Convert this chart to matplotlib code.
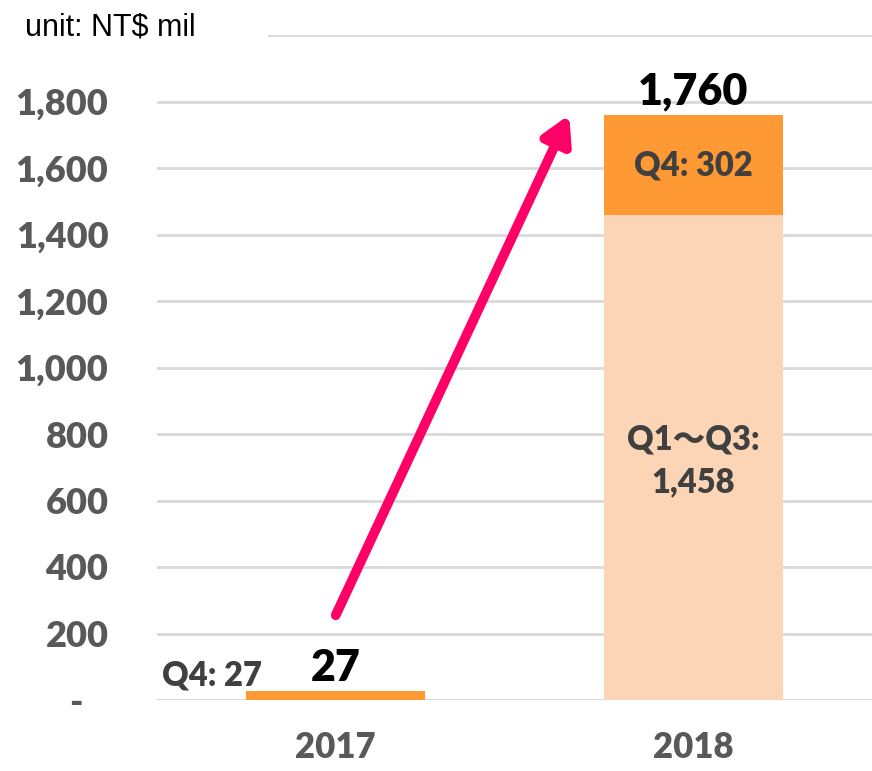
import matplotlib.pyplot as plt
from matplotlib.patches import Rectangle
from matplotlib.ticker import FuncFormatter

years = ["2017", "2018"]
q1_q3 = [0, 1458]
q4 = [27, 302]
totals = [27, 1760]

c_q4 = "#FF9933"
c_q13 = "#FBD5B5"
lbl = ["Lato", "Noto Sans CJK JP", "DejaVu Sans"]
wt = "heavy"

fig = plt.figure(figsize=(8.72, 7.71), dpi=100)
ax = fig.add_axes([157 / 872, 71 / 771, 1 - 157 / 872, 665 / 771])

x = range(len(years))
ax.bar(x, q1_q3, width=0.5, color=c_q13, zorder=2)
ax.bar(x, q4, width=0.5, bottom=q1_q3, color=c_q4, zorder=2)

ax.set_xlim(-0.5, 1.5)
ax.set_ylim(0, 2000)
ax.set_yticks(range(0, 2001, 200))
ax.yaxis.set_major_formatter(FuncFormatter(lambda v, p: "-   " if v == 0 else f"{v:,.0f}"))
ax.set_xticks(list(x))
ax.set_xticklabels(years)
ax.grid(axis="y", color="#D9D9D9", linewidth=2, zorder=0)
for s in ax.spines.values():
    s.set_visible(False)
ax.tick_params(length=0)
ax.tick_params(axis="y", pad=35)
ax.tick_params(axis="x", pad=22)
for t in ax.get_yticklabels():
    t.set_fontsize(26)
for t in ax.get_xticklabels():
    t.set_fontsize(25)
for t in ax.get_yticklabels() + ax.get_xticklabels():
    t.set_fontfamily(lbl)
    t.set_fontweight(wt)
    t.set_color("#595959")
ax.get_yticklabels()[-1].set_visible(False)

# totals on top
for i, tot in enumerate(totals):
    ax.text(i, tot + 69, f"{tot:,}", ha="center", va="center", fontsize=31,
            fontweight=wt, family=lbl, color="black")

# segment labels
ax.text(-0.206, 75, f"Q4: {q4[0]}", ha="right", va="center", fontsize=23.5,
        fontweight=wt, family=lbl, color="#404040")
ax.text(1, q1_q3[1] + q4[1] / 2, f"Q4: {q4[1]}", ha="center", va="center", fontsize=23.5,
        fontweight=wt, family=lbl, color="#404040")
ax.text(1, 719, f"Q1～Q3:\n{q1_q3[1]:,}", ha="center", va="center", fontsize=23.5,
        fontweight=wt, family=lbl, color="#404040", linespacing=1.45)

# growth arrow
ax.annotate("", xy=(0.653, 1760), xytext=(0.0, 255),
            arrowprops=dict(arrowstyle="-|>,head_length=1.6,head_width=0.9",
                            color="#FF0066", lw=7, shrinkA=0, shrinkB=0), zorder=3)

# white box behind the unit note (hides the top gridline start)
fig.patches.append(Rectangle((0, 1 - 50 / 771), 268 / 872, 40 / 771,
                             transform=fig.transFigure, facecolor="white",
                             edgecolor="none", zorder=4))
fig.text(25 / 872, 1 - 28 / 771, "unit: NT$ mil", ha="left", va="center",
         fontsize=22, family="Liberation Sans", color="black", zorder=5)

fig.savefig("out.png", dpi=100)
